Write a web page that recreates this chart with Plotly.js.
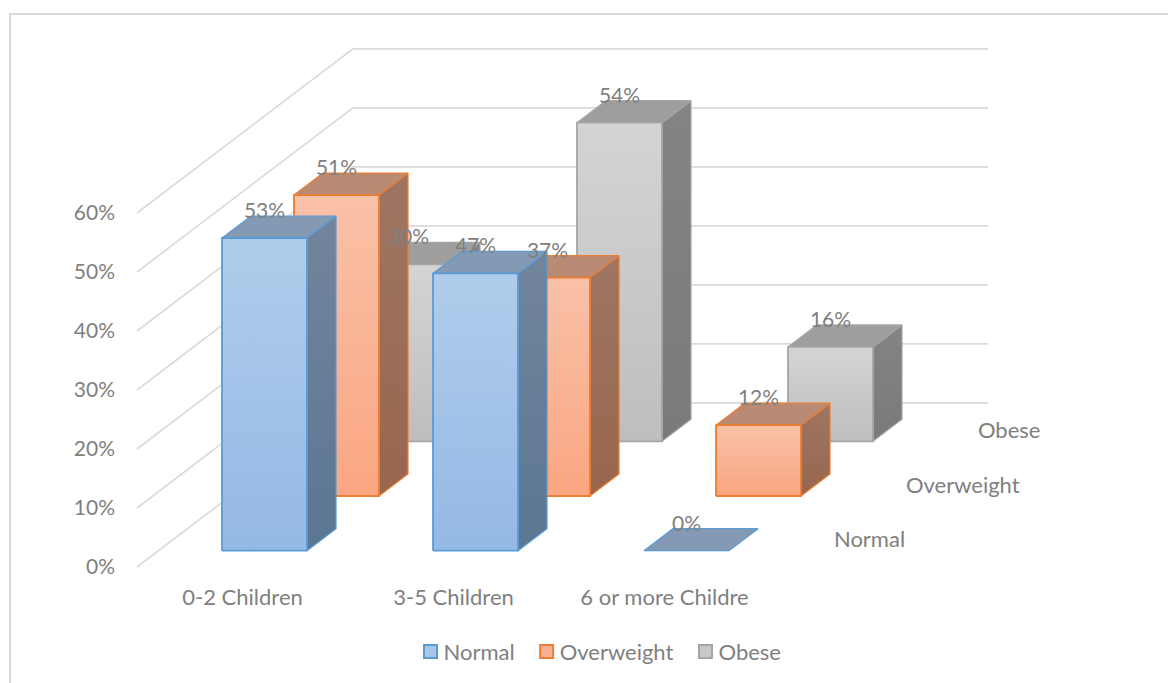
<!DOCTYPE html>
<html>
<head>
<meta charset="utf-8">
<script src="https://cdn.plot.ly/plotly-3.0.1.min.js"></script>
<style>
  html, body { margin: 0; padding: 0; background: #fff; }
  #chart { width: 1168px; height: 683px; }
</style>
</head>
<body>
<div id="chart"></div>
<script>
// Family size versus weight status, drawn as an oblique 3-D column chart.
const categories = ['0-2 Children', '3-5 Children', '6 or more Childre'];
const seriesNames = ['Normal', 'Overweight', 'Obese'];
const normalValues = [53, 47, 0];
const overweightValues = [51, 37, 12];
const obeseValues = [30, 54, 16];
const percentTicks = [0, 10, 20, 30, 40, 50, 60];

const seriesValues = [normalValues, overweightValues, obeseValues];

const seriesStyle = [
  { edge: '#5B9BD5', frontHi: '#B0CCEB', frontLo: '#94B9E5', top: '#8499B4', sideHi: '#72859C', sideLo: '#5B7693', swatch: '#A9C6E9' },
  { edge: '#ED7D31', frontHi: '#F9C1A8', frontLo: '#FAA681', top: '#B98A74', sideHi: '#9D7663', sideLo: '#99664D', swatch: '#F6B193' },
  { edge: '#A5A5A5', frontHi: '#D4D4D4', frontLo: '#BEBEBE', top: '#9E9E9E', sideHi: '#848484', sideLo: '#7A7A7A', swatch: '#C8C8C8' }
];

const textGrey = '#808080';
const gridGrey = '#DADADA';
const fontFamily = 'Lato, "Open Sans", sans-serif';
const textSize = 22;
const numberSize = 21;

// Oblique projection: everything is expressed in axis units
// (one x unit = one category slot, one y unit = one percent).
const pxPerCat = 211, pxPerPct = 5.9;
const rowDx = 72 / pxPerCat, rowDy = 54.7 / pxPerPct;
const barW = 85 / pxPerCat;
const barDx = 29 / pxPerCat, barDy = 22 / pxPerPct;
const insetX = -20.5 / pxPerCat, insetY = 16.3 / pxPerPct;

function barCorner(cat, row, v) {
  return [cat + insetX + row * rowDx, v + insetY + row * rowDy];
}

const traces = [];

// Wall grid lines: from the front-left corner along the side wall, then across the back wall.
percentTicks.forEach(p => {
  traces.push({
    type: 'scatter', mode: 'lines', hoverinfo: 'skip', showlegend: false,
    x: [-0.5, -0.5 + 3 * rowDx, 2.51 + 3 * rowDx],
    y: [p, p + 3 * rowDy, p + 3 * rowDy],
    line: { color: gridGrey, width: 1.6 }
  });
});

function face(xs, ys, s, gradHi, gradLo, width, solid) {
  const t = {
    type: 'scatter', mode: 'lines', hoverinfo: 'skip', showlegend: false,
    x: xs.concat(xs[0]), y: ys.concat(ys[0]), fill: 'toself',
    line: { color: s.edge, width: width }
  };
  if (solid) t.fillcolor = gradHi;
  else t.fillgradient = { type: 'vertical', colorscale: [[0, gradLo], [1, gradHi]] };
  return t;
}

// Painter's order: back row first, then left to right inside each row.
[2, 1, 0].forEach(row => {
  const s = seriesStyle[row];
  seriesValues[row].forEach((v, cat) => {
    const [x0, y0] = barCorner(cat, row, 0);
    const yTop = y0 + v;
    const x1 = x0 + barW;
    if (v > 0) {
      traces.push(face([x1, x1 + barDx, x1 + barDx, x1], [y0, y0 + barDy, yTop + barDy, yTop], s, s.sideHi, s.sideLo, 1.2));
    }
    traces.push(face([x0, x1, x1 + barDx, x0 + barDx], [yTop, yTop, yTop + barDy, yTop + barDy], s, s.top, s.top, 1.2, true));
    if (v > 0) {
      traces.push(face([x0, x1, x1, x0], [y0, y0, yTop, yTop], s, s.frontHi, s.frontLo, 1.8));
    }
  });
});

// Value labels sit above the back edge of each column's top face.
const labelLift = 3.2 / pxPerPct;
const labelX = [], labelY = [], labelText = [];
[2, 1, 0].forEach(row => {
  seriesValues[row].forEach((v, cat) => {
    const [x0, y0] = barCorner(cat, row, v);
    labelX.push(x0 + barW / 2);
    labelY.push(y0 + barDy + labelLift);
    labelText.push(v + '%');
  });
});
traces.push({
  type: 'scatter', mode: 'text', hoverinfo: 'skip', showlegend: false,
  x: labelX, y: labelY, text: labelText, textposition: 'middle center',
  textfont: { family: fontFamily, size: numberSize, color: textGrey }
});

// Depth-axis labels, one per series row, starting past the right end of the floor.
traces.push({
  type: 'scatter', mode: 'text', hoverinfo: 'skip', showlegend: false,
  x: seriesNames.map((n, row) => 2.5 + 0.303 + row * rowDx),
  y: seriesNames.map((n, row) => 4.25 + row * rowDy),
  text: seriesNames, textposition: 'middle right',
  textfont: { family: fontFamily, size: textSize, color: textGrey }
});

// Legend entries.
seriesNames.forEach((name, i) => {
  traces.push({
    type: 'scatter', mode: 'markers', name: name, x: [null], y: [null],
    marker: { symbol: 'square', size: 13, color: seriesStyle[i].swatch, line: { color: seriesStyle[i].edge, width: 2 } }
  });
});

const plotLeft = 116, plotRight = 1100, plotTop = 20, plotBottom = 582;
const zeroPx = 567, cat0Px = 242.5;

const layout = {
  width: 1168, height: 683,
  paper_bgcolor: '#fff', plot_bgcolor: 'rgba(0,0,0,0)',
  margin: { l: plotLeft, r: 1168 - plotRight, t: plotTop, b: 683 - plotBottom, pad: 0 },
  font: { family: fontFamily, size: textSize, color: textGrey },
  showlegend: true,
  legend: {
    orientation: 'h', xref: 'container', yref: 'container',
    x: 0.5154, xanchor: 'center', y: 0.015, yanchor: 'bottom',
    font: { family: fontFamily, size: textSize, color: textGrey },
    bgcolor: 'rgba(0,0,0,0)', itemclick: false, itemdoubleclick: false
  },
  xaxis: {
    range: [(plotLeft - cat0Px) / pxPerCat, (plotRight - cat0Px) / pxPerCat],
    tickvals: [0, 1, 2], ticktext: categories,
    showgrid: false, zeroline: false, showline: false, ticks: '', fixedrange: true,
    tickfont: { family: fontFamily, size: textSize, color: textGrey }
  },
  yaxis: {
    range: [(zeroPx - plotBottom) / pxPerPct, (zeroPx - plotTop) / pxPerPct],
    tickvals: percentTicks, ticktext: percentTicks.map(p => p + '%'),
    showgrid: false, zeroline: false, showline: false, ticks: '', fixedrange: true,
    tickfont: { family: fontFamily, size: numberSize, color: textGrey }
  },
  shapes: [{
    type: 'rect', xref: 'paper', yref: 'paper', layer: 'below',
    x0: (10 - plotLeft) / (plotRight - plotLeft),
    x1: (1200 - plotLeft) / (plotRight - plotLeft),
    y0: (plotBottom - 720) / (plotBottom - plotTop),
    y1: (plotBottom - 14) / (plotBottom - plotTop),
    line: { color: gridGrey, width: 2 }, fillcolor: 'rgba(0,0,0,0)'
  }]
};

Plotly.newPlot('chart', traces, layout, { displayModeBar: false, staticPlot: true }).then(() => {
  // Tighten the gap between each legend swatch and its name.
  document.querySelectorAll('#chart .legendtext').forEach(t => t.setAttribute('x', 33));
});
</script>
</body>
</html>
